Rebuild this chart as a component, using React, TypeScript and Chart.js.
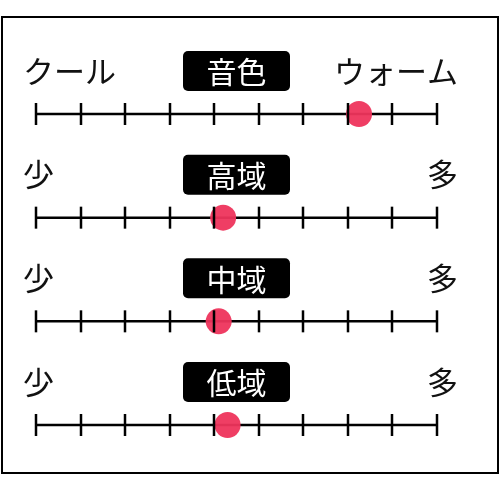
import { useEffect, useRef } from 'react';
import { Chart, registerables, Plugin } from 'chart.js';

Chart.register(...registerables);

// one row per slider, top to bottom
const rowTitles = ['音色', '高域', '中域', '低域'];
const leftLabels = ['クール', '少', '少', '少'];
const rightLabels = ['ウォーム', '多', '多', '多'];
const tickValues = [1, 2, 3, 4, 5, 6, 7, 8, 9, 10];
const dotValues = [8.25, 5.2, 5.1, 5.3];

const FONT = '"Noto Sans CJK JP", "Noto Sans", sans-serif';
const INK = '#000';

const sliderPlugin: Plugin<'scatter'> = {
  id: 'sliders',
  beforeDatasetsDraw(chart) {
    const { ctx } = chart;
    const xs = chart.scales.x;
    const ys = chart.scales.y;
    const x0 = xs.getPixelForValue(tickValues[0]);
    const x1 = xs.getPixelForValue(tickValues[tickValues.length - 1]);
    const mid = (x0 + x1) / 2;

    ctx.save();
    rowTitles.forEach((title, i) => {
      const y = ys.getPixelForValue(i);
      const ty = y - 43;

      // axis line
      ctx.strokeStyle = INK;
      ctx.lineWidth = 2.5;
      ctx.beginPath();
      ctx.moveTo(x0, y);
      ctx.lineTo(x1, y);
      ctx.stroke();

      // end labels
      ctx.font = `31px ${FONT}`;
      ctx.fillStyle = '#111';
      ctx.textBaseline = 'middle';
      ctx.textAlign = 'left';
      ctx.fillText(leftLabels[i], 23, ty);
      ctx.textAlign = 'right';
      ctx.fillText(rightLabels[i], 458, ty);

      // title box
      const bw = 107;
      const bh = 40;
      ctx.fillStyle = '#000';
      ctx.beginPath();
      ctx.roundRect(mid - bw / 2, ty - bh / 2, bw, bh, 5);
      ctx.fill();
      ctx.font = `30px ${FONT}`;
      ctx.fillStyle = '#fff';
      ctx.textAlign = 'center';
      ctx.fillText(title, mid, ty + 1);
    });
    ctx.restore();
  },
  afterDatasetsDraw(chart) {
    const { ctx } = chart;
    const xs = chart.scales.x;
    const ys = chart.scales.y;
    ctx.save();
    ctx.strokeStyle = INK;
    ctx.lineWidth = 2.5;
    rowTitles.forEach((_, i) => {
      const y = ys.getPixelForValue(i);
      tickValues.forEach((t) => {
        const x = Math.round(xs.getPixelForValue(t));
        ctx.beginPath();
        ctx.moveTo(x, y - 11);
        ctx.lineTo(x, y + 11);
        ctx.stroke();
      });
    });
    ctx.restore();
  },
};

export default function App() {
  const canvasRef = useRef<HTMLCanvasElement>(null);

  useEffect(() => {
    if (!canvasRef.current) return;
    const chart = new Chart(canvasRef.current, {
      type: 'scatter',
      data: {
        datasets: [
          {
            data: dotValues.map((v, i) => ({ x: v, y: i })),
            pointRadius: 13,
            pointHoverRadius: 13,
            pointBackgroundColor: 'rgba(238, 52, 92, 0.95)',
            pointBorderWidth: 0,
            clip: false,
          },
        ],
      },
      options: {
        responsive: false,
        animation: false,
        events: [],
        layout: { padding: { left: 36, right: 63, top: 114, bottom: 54 } },
        plugins: {
          legend: { display: false },
          tooltip: { enabled: false },
        },
        scales: {
          x: { type: 'linear', min: 1, max: 10, display: false },
          y: { type: 'linear', min: 0, max: 3, reverse: true, display: false },
        },
      },
      plugins: [sliderPlugin],
    });
    return () => chart.destroy();
  }, []);

  return (
    <div style={{ position: 'absolute', left: 0, top: 0, width: 500, height: 479, background: '#fff' }}>
      <div
        style={{
          position: 'absolute',
          left: 1,
          top: 16,
          width: 498,
          height: 458,
          boxSizing: 'border-box',
          border: '2.5px solid #000',
        }}
      />
      <canvas
        ref={canvasRef}
        width={500}
        height={479}
        style={{ position: 'absolute', left: 0, top: 0, width: 500, height: 479 }}
      />
    </div>
  );
}
